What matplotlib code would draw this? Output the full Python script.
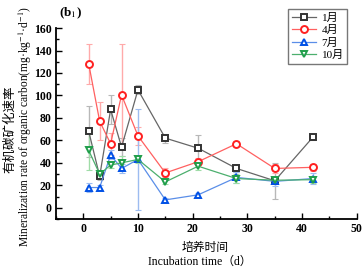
import matplotlib
matplotlib.use("Agg")
import matplotlib.pyplot as plt
from matplotlib.ticker import MultipleLocator

plt.rcParams['font.family'] = ['Liberation Serif', 'Noto Sans CJK SC']
plt.rcParams['mathtext.fontset'] = 'stix'

days = [1, 3, 5, 7, 10, 15, 21, 28, 35, 42]
series_names = ["1月", "4月", "7月", "10月"]
jan = [68, 28, 87.5, 54, 105, 62, 53, 35, 24, 63]
jan_err = [23, 3, 13, 8, 4, 4, 12, 3, 16, 3]
apr = [128, 77, 57, 100.5, 64, 31, 41, 57, 35, 36]
apr_err = [18, 17, 10, 45, 8, 4, 3, 2, 4, 3]
jul = [18, 18, 47, 35, 43, 7, 11.5, 27, 23.5, 26]
jul_err = [4, 2, 4, 4, 45, 2, 2, 5, 4, 5]
octo = [51, 30, 38, 40, 43, 23, 37, 26, 24.5, 25]
octo_err = [17, 3, 3, 6, 3, 2, 3, 4, 2, 3]

values = [jan, apr, jul, octo]
errors = [jan_err, apr_err, jul_err, octo_err]
markers = ['s', 'o', '^', 'v']
edge_colors = ['#333333', '#ff2020', '#0050e6', '#1f9e4a']
line_colors = ['#666666', '#ff6060', '#5a8ee8', '#4caf6e']
err_colors = ['#b8b8b8', '#ffaaaa', '#9dbcf0', '#a0dca8']

fig = plt.figure(figsize=(3.63, 2.70), dpi=100)
ax = fig.add_axes([0.154, 0.189, 0.829, 0.707])

for v, e, m, ec, lc, erc, name in zip(values, errors, markers, edge_colors,
                                       line_colors, err_colors, series_names):
    ax.errorbar(days, v, yerr=e, fmt='none', ecolor=erc, elinewidth=1.0,
                capsize=2, capthick=0.8, zorder=1)
    ax.plot(days, v, color=lc, linewidth=0.9, marker=m, markersize=5,
            markerfacecolor='white', markeredgecolor=ec, markeredgewidth=1.4,
            label=name, zorder=3)

ax.set_xlim(-5, 50)
ax.set_ylim(-10, 160)
ax.xaxis.set_major_locator(MultipleLocator(10))
ax.xaxis.set_minor_locator(MultipleLocator(5))
ax.yaxis.set_major_locator(MultipleLocator(20))
ax.yaxis.set_minor_locator(MultipleLocator(10))
ax.spines['top'].set_visible(False)
ax.spines['right'].set_visible(False)
ax.spines['left'].set_linewidth(1.3)
ax.spines['bottom'].set_linewidth(1.3)
ax.tick_params(which='major', direction='in', length=4, width=1.0,
               labelsize=8.5, pad=3)
ax.tick_params(which='minor', direction='in', length=2.5, width=1.0)
for lab in ax.get_xticklabels() + ax.get_yticklabels():
    lab.set_fontweight('bold')

leg = ax.legend(loc='upper right', bbox_to_anchor=(0.968, 1.098), fontsize=8,
                frameon=True, fancybox=False, edgecolor='#555555',
                borderpad=0.3, labelspacing=0.22, handlelength=2.2,
                handletextpad=0.5, borderaxespad=0)
leg.get_frame().set_linewidth(1.0)

ax.text(0.01, 1.035, r"(b$_1$)", transform=ax.transAxes, fontsize=9.5,
        fontweight='bold', ha='left', va='bottom')

fig.text(0.028, 0.52, "有机碳矿化速率", rotation=90, ha='center', va='center',
         fontsize=9)
fig.text(0.070, 0.53, r"Mineralization rate of organic carbon(mg·kg$^{-1}$·d$^{-1}$)",
         rotation=90, ha='center', va='center', fontsize=8.3)
fig.text(0.565, 0.082, "培养时间", ha='center', va='center', fontsize=8.5)
fig.text(0.55, 0.030, "Incubation time（d）", ha='center', va='center',
         fontsize=8.5)

fig.savefig("out.png", dpi=100)
